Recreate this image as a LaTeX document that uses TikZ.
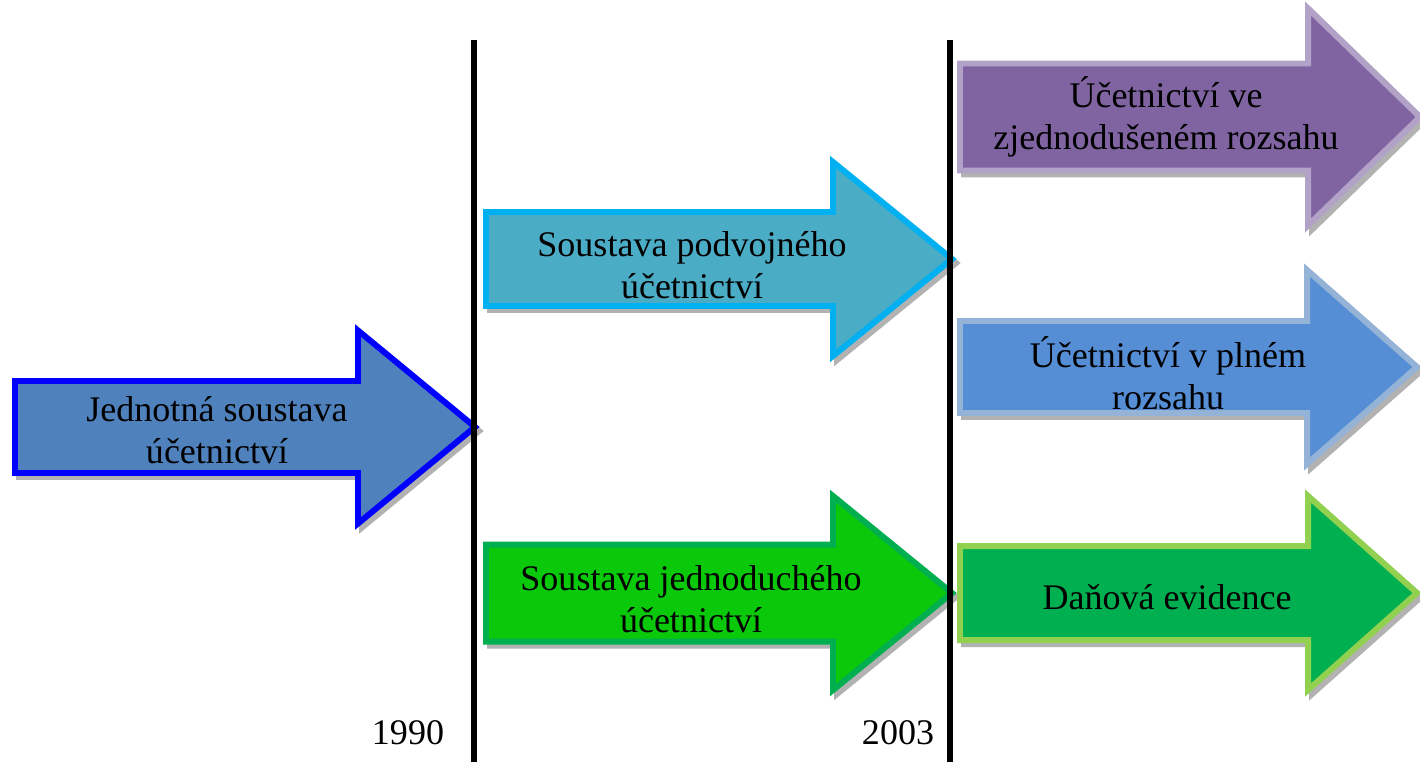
\documentclass[tikz,border=0pt]{standalone}
\usepackage{fontspec}
\setmainfont{Liberation Serif}
\usepackage{tikz}

\definecolor{jsfill}{HTML}{4F81BD}
\definecolor{jsline}{HTML}{0000FF}
\definecolor{pufill}{HTML}{4BACC6}
\definecolor{puline}{HTML}{00B0F0}
\definecolor{zrfill}{HTML}{8064A2}
\definecolor{zrline}{HTML}{B3A2C7}
\definecolor{prfill}{HTML}{558ED5}
\definecolor{prline}{HTML}{95B3D7}
\definecolor{jufill}{HTML}{0AC80A}
\definecolor{juline}{HTML}{00B050}
\definecolor{defill}{HTML}{00B050}
\definecolor{deline}{HTML}{92D050}

% #1 fill, #2 border, #3 left, #4 head base, #5 tip, #6 centre y, #7 shaft half, #8 head half
\newcommand{\fatarrow}[8]{%
  \draw [fill=gray!60,draw=gray!60,line width=3.4pt,shift={(4,4)}]
    (#3,#6-#7) -- (#4,#6-#7) -- (#4,#6-#8) -- (#5,#6) -- (#4,#6+#8) -- (#4,#6+#7) -- (#3,#6+#7) -- cycle;
  \draw [fill=#1,draw=#2,line width=3.4pt]
    (#3,#6-#7) -- (#4,#6-#7) -- (#4,#6-#8) -- (#5,#6) -- (#4,#6+#8) -- (#4,#6+#7) -- (#3,#6+#7) -- cycle;}

\begin{document}
\begin{tikzpicture}[x=0.02cm,y=-0.02cm,
  label/.style={align=center,font=\fontsize{20.5}{23.8}\selectfont}]
\useasboundingbox (0,0) rectangle (1420,762);
\fatarrow{jsfill}{jsline}{15}{358}{475}{427}{46}{96.5}
\fatarrow{pufill}{puline}{486}{833}{952}{259}{47}{97}
\fatarrow{zrfill}{zrline}{960}{1308}{1420}{117}{53.5}{108.5}
\fatarrow{prfill}{prline}{960}{1307}{1417}{367}{46}{97}
\fatarrow{jufill}{juline}{486}{833}{952}{593}{48.5}{97}
\fatarrow{defill}{deline}{960}{1308}{1417}{593}{47}{97}
\node (jednotna) at (217,430) [label] {Jednotná soustava\\účetnictví};
\node (podvojne) at (692,265) [label] {Soustava podvojného\\účetnictví};
\node (zjedn)    at (1166,117) [label] {Účetnictví ve\\zjednodušeném rozsahu};
\node (plny)     at (1168,373) [label] {Účetnictví v plném\\rozsahu};
\node (jednoduche) at (691,599) [label] {Soustava jednoduchého\\účetnictví};
\node (danova)   at (1167,597) [label] {Daňová evidence};
\coordinate (top1990) at (474,40);
\coordinate (bot1990) at (474,762);
\coordinate (top2003) at (950,40);
\coordinate (bot2003) at (950,762);
\draw [line width=3.4pt] (top1990) -- (bot1990);
\draw [line width=3.4pt] (top2003) -- (bot2003);
\node (y1990) at (408,733) [label] {1990};
\node (y2003) at (898,733) [label] {2003};
\end{tikzpicture}
\end{document}
